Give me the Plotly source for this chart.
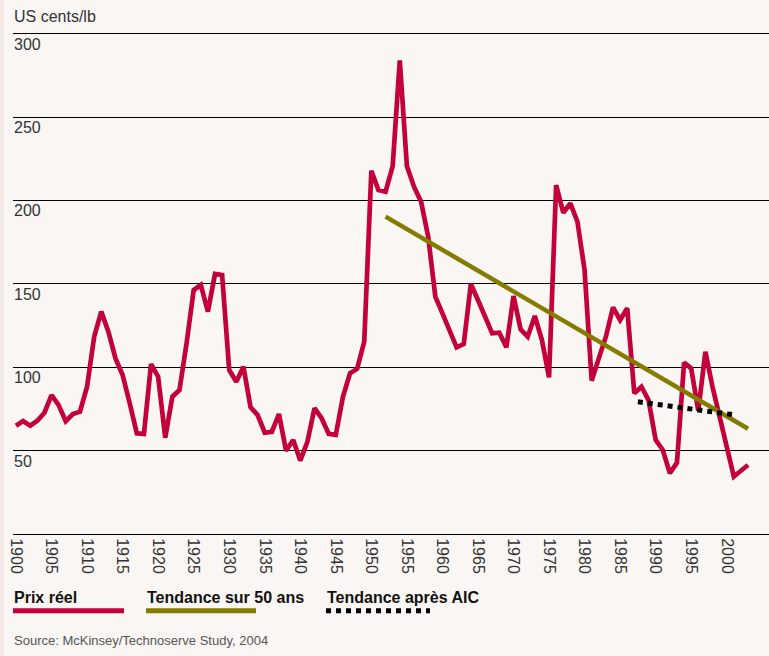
import plotly.graph_objects as go

# ---- data ----
years = list(range(1900, 2004))
prix_reel = [
    64.9, 67.7, 64.9, 67.9, 72.7, 83.3, 77.3, 67.7, 71.9, 73.3,
    88.3, 118.3, 133.3, 121.3, 105.3, 95.3, 78.4, 60.4, 60.0, 101.9,
    94.3, 57.7, 82.3, 86.3, 114.3, 146.3, 149.3, 133.3, 155.9, 155.3,
    98.3, 91.3, 100.3, 76.0, 71.3, 60.7, 61.3, 71.9, 49.9, 56.4,
    44.0, 55.3, 75.4, 69.4, 60.0, 59.4, 82.3, 96.3, 99.0, 115.3,
    217.8, 206.2, 205.2, 220.6, 284.0, 220.6, 208.2, 199.2, 178.2, 142.3,
    132.3, 122.3, 111.9, 113.9, 149.9, 140.3, 130.7, 120.3, 120.7, 111.9,
    142.7, 122.7, 118.3, 130.7, 116.3, 93.9, 209.2, 192.6, 198.2, 187.2,
    158.3, 91.9, 105.3, 118.3, 135.9, 128.3, 135.3, 84.3, 88.3, 80.3,
    56.4, 50.4, 36.4, 42.8, 102.7, 99.3, 73.9, 109.3, 88.3, 69.4,
    50.4, 34.4, 37.9, 41.4,
]
trend50_years = [1952, 2003]
trend50_values = [190.3, 63.1]
trend_aic_years = [1987.5, 2001.3]
trend_aic_values = [79.3, 71.3]

x_ticks = list(range(1900, 2001, 5))
y_ticks = [50, 100, 150, 200, 250, 300]

legend_labels = ["Prix réel", "Tendance sur 50 ans", "Tendance après AIC"]
y_title = "US cents/lb"
source_text = "Source: McKinsey/Technoserve Study, 2004"

# ---- styles ----
RED = "#C4003A"
OLIVE = "#857B00"
BLACK = "#000000"
BG = "#F9F6F3"
FONT = "Liberation Sans, Arial, sans-serif"

PLOT_TOP = 30
PLOT_BOTTOM = 534
PLOT_H = PLOT_BOTTOM - PLOT_TOP
PLOT_W = 756
Y_MAX = PLOT_H / 1.668


def py(px):
    """pixel row -> paper y"""
    return (PLOT_BOTTOM - px) / PLOT_H


def pxx(px):
    """pixel column -> paper x"""
    return (px - 13) / PLOT_W


fig = go.Figure()
fig.add_trace(go.Scatter(x=years, y=prix_reel, mode="lines",
                         line=dict(color=RED, width=4.7), name=legend_labels[0]))
fig.add_trace(go.Scatter(x=trend50_years, y=trend50_values, mode="lines",
                         line=dict(color=OLIVE, width=4.5), name=legend_labels[1]))
fig.add_trace(go.Scatter(x=trend_aic_years, y=trend_aic_values, mode="lines",
                         line=dict(color=BLACK, width=5, dash="dot"), name=legend_labels[2]))

fig.update_layout(
    width=769, height=656,
    margin=dict(l=13, r=0, t=PLOT_TOP, b=656 - PLOT_BOTTOM),
    paper_bgcolor=BG, plot_bgcolor=BG,
    showlegend=False,
    font=dict(family=FONT, color="#333333"),
    xaxis=dict(
        range=[1899.578, 2005.95],
        tickvals=x_ticks, ticktext=[str(v) for v in x_ticks],
        tickangle=90, tickfont=dict(size=16, color="#333333"),
        ticklabeloverflow="allow",
        showgrid=False, zeroline=False,
        showline=True, linecolor="#000000", linewidth=1,
        ticks="", fixedrange=True, automargin=False,
    ),
    yaxis=dict(
        range=[0, Y_MAX],
        tickvals=y_ticks, showticklabels=False,
        showgrid=True, gridcolor="#000000", gridwidth=1,
        zeroline=False, showline=False, ticks="", fixedrange=True,
        automargin=False,
    ),
)

# y tick labels, placed under their gridlines
for v in y_ticks:
    fig.add_annotation(text=str(v), xref="paper", yref="y", x=0, y=v,
                       xanchor="left", yanchor="top", yshift=-1, showarrow=False,
                       borderpad=0, font=dict(size=16, color="#333333"))

# y-axis title
fig.add_annotation(text=y_title, xref="paper", yref="paper", x=0, y=py(16.5),
                   xanchor="left", yanchor="middle", showarrow=False, borderpad=0,
                   font=dict(size=16, color="#333333"))

# custom legend
leg_x = [pxx(13), pxx(146), pxx(326)]
leg_x_end = [pxx(124), pxx(256), pxx(430)]
leg_style = [dict(color=RED, width=5), dict(color=OLIVE, width=5),
             dict(color=BLACK, width=5, dash="dot")]
for lbl, x0, x1, st in zip(legend_labels, leg_x, leg_x_end, leg_style):
    fig.add_annotation(text="<b>" + lbl + "</b>", xref="paper", yref="paper",
                       x=x0, y=py(597.5), xanchor="left", yanchor="middle",
                       showarrow=False, borderpad=0,
                       font=dict(size=16, color="#111111"))
    fig.add_shape(type="line", xref="paper", yref="paper",
                  x0=x0, x1=x1, y0=py(610.7), y1=py(610.7), line=st)

fig.add_annotation(text=source_text, xref="paper", yref="paper", x=0, y=py(640),
                   xanchor="left", yanchor="middle", showarrow=False, borderpad=0,
                   font=dict(size=13, color="#555555"))

# left edge strip
fig.add_shape(type="rect", xref="paper", yref="paper", x0=pxx(0), x1=pxx(4),
              y0=py(660), y1=py(-4), line=dict(width=0), fillcolor="#F2E9E7",
              layer="below")

fig.write_html(
    "out.html",
    config={"displayModeBar": False},
    post_script="document.body.style.margin='0';document.body.style.background='%s';" % BG,
)
